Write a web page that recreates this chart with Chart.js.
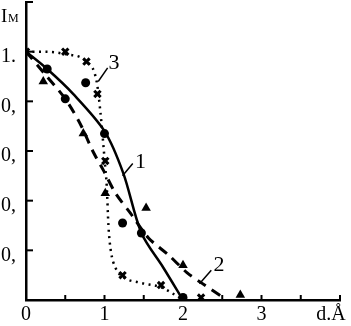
<!DOCTYPE html>
<html>
<head>
<meta charset="utf-8">
<script src="https://cdn.jsdelivr.net/npm/chart.js@4.4.1/dist/chart.umd.min.js"></script>
<style>
  html, body { margin: 0; padding: 0; background: #fff; }
</style>
</head>
<body>
<canvas id="chart" width="351" height="326"></canvas>
<script>
// curve 1 (solid)
const line1X = [0, 0.27, 0.6, 1.0, 1.24, 1.47, 1.75, 2.0];
const line1Y = [1.0, 0.93, 0.83, 0.68, 0.51, 0.27, 0.13, 0.0];
// curve 2 (dashed)
const line2X = [0, 0.24, 0.5, 0.69, 0.85, 0.99, 1.14, 1.33, 1.56, 1.82, 2.05, 2.23, 2.51];
const line2Y = [1.0, 0.91, 0.81, 0.71, 0.6, 0.52, 0.43, 0.35, 0.25, 0.18, 0.11, 0.07, 0.01];
// curve 3 (dotted)
const line3X = [0, 0.25, 0.5, 0.77, 0.9, 0.95, 1.0, 1.03, 1.05, 1.08, 1.14, 1.25, 1.45, 1.73, 1.9, 2.0];
const line3Y = [1.0, 1.0, 0.99, 0.96, 0.88, 0.75, 0.57, 0.45, 0.3, 0.2, 0.13, 0.09, 0.07, 0.05, 0.02, 0.0];

// measured points
const circleX = [0.27, 0.5, 0.76, 1.0, 1.23, 1.47, 2.0];
const circleY = [0.93, 0.81, 0.875, 0.67, 0.31, 0.27, 0.01];
const triangleX = [0.22, 0.73, 1.01, 1.53, 2.0, 2.73];
const triangleY = [0.88, 0.67, 0.43, 0.37, 0.14, 0.02];
const crossX = [0, 0.5, 0.77, 0.91, 1.01, 1.23, 1.72, 2.23];
const crossY = [1.0, 1.0, 0.96, 0.83, 0.56, 0.1, 0.06, 0.01];

// axis labels
const xTickValues = [0, 1, 2, 3];
const xTickLabels = ['0', '1', '2', '3'];
const yTickValues = [1.0, 0.8, 0.6, 0.4, 0.2];
const yTickLabels = ['1.', '0,', '0,', '0,', '0,'];

// curve numbers with their leader lines [labelX, labelY, fromX, fromY, toX, toY]
const curveNames = ['1', '2', '3'];
const curveNamePos = [
  [1.46, 0.555, 1.23, 0.5, 1.36, 0.55],
  [2.46, 0.14, 2.21, 0.065, 2.36, 0.12],
  [1.12, 0.955, 0.92, 0.88, 1.04, 0.935]
];

function pts(xs, ys) {
  return xs.map((x, i) => ({ x: x, y: ys[i] }));
}

const lineBase = { showLine: true, pointRadius: 0, fill: false, borderColor: '#000' };

const decor = {
  id: 'decor',
  afterDraw(chart) {
    const ctx = chart.ctx;
    const xs = chart.scales.x, ys = chart.scales.y;
    const y0 = ys.getPixelForValue(0);
    const x0 = xs.getPixelForValue(0);
    ctx.save();
    ctx.strokeStyle = '#000';
    ctx.fillStyle = '#000';
    ctx.lineWidth = 2;
    // inward ticks
    for (let v = 0.5; v <= 4; v += 0.5) {
      const px = xs.getPixelForValue(v);
      ctx.beginPath(); ctx.moveTo(px, y0); ctx.lineTo(px, y0 - 5); ctx.stroke();
    }
    for (let v = 0.2; v <= 1.21; v += 0.2) {
      const py = ys.getPixelForValue(v);
      ctx.beginPath(); ctx.moveTo(x0, py); ctx.lineTo(x0 + 7, py); ctx.stroke();
    }
    ctx.font = '20px "Liberation Serif", "DejaVu Serif", serif';
    ctx.textBaseline = 'middle';
    ctx.textAlign = 'center';
    xTickValues.forEach((v, i) => {
      ctx.fillText(xTickLabels[i], xs.getPixelForValue(v), 315);
    });
    ctx.fillText('d.Å', 331, 315);
    ctx.textAlign = 'left';
    yTickValues.forEach((v, i) => {
      ctx.fillText(yTickLabels[i], 1, ys.getPixelForValue(v) + 5);
    });
    // I_M
    ctx.font = '19px "Liberation Serif", serif';
    ctx.textBaseline = 'alphabetic';
    ctx.fillText('I', 1, 22);
    ctx.font = '12px "Liberation Serif", serif';
    ctx.fillText('M', 8, 22);
    // curve numbers
    ctx.font = '22px "Liberation Serif", serif';
    ctx.textAlign = 'center';
    ctx.textBaseline = 'middle';
    ctx.lineWidth = 1.5;
    curveNames.forEach((name, i) => {
      const p = curveNamePos[i];
      ctx.fillText(name, xs.getPixelForValue(p[0]), ys.getPixelForValue(p[1]));
      ctx.beginPath();
      ctx.moveTo(xs.getPixelForValue(p[2]), ys.getPixelForValue(p[3]));
      ctx.lineTo(xs.getPixelForValue(p[4]), ys.getPixelForValue(p[5]));
      ctx.stroke();
    });
    ctx.restore();
  }
};

new Chart(document.getElementById('chart').getContext('2d'), {
  type: 'scatter',
  data: {
    datasets: [
      Object.assign({ data: pts(line1X, line1Y), borderWidth: 2.5, tension: 0.3 }, lineBase),
      Object.assign({ data: pts(line2X, line2Y), borderWidth: 3, borderDash: [10, 7], tension: 0.3 }, lineBase),
      Object.assign({ data: pts(line3X, line3Y), borderWidth: 2.5, borderDash: [2, 4.5], cubicInterpolationMode: 'monotone' }, lineBase),
      { data: pts(circleX, circleY), pointStyle: 'circle', pointRadius: 4.5, backgroundColor: '#000', borderColor: '#000', borderWidth: 0 },
      { data: pts(triangleX, triangleY), pointStyle: 'triangle', pointRadius: 5.5, backgroundColor: '#000', borderColor: '#000', borderWidth: 0 },
      { data: pts(crossX, crossY), pointStyle: 'crossRot', pointRadius: 4.5, borderColor: '#000', borderWidth: 3 }
    ]
  },
  options: {
    responsive: false,
    animation: false,
    events: [],
    layout: { autoPadding: false, padding: { top: 2, right: 11, left: 0, bottom: 0 } },
    plugins: { legend: { display: false }, tooltip: { enabled: false } },
    scales: {
      x: {
        type: 'linear', min: 0, max: 4,
        afterFit: s => { s.height = 26; },
        ticks: { display: false },
        grid: { display: false },
        border: { display: true, color: '#000', width: 2.5 }
      },
      y: {
        type: 'linear', min: 0, max: 1.2,
        afterFit: s => { s.width = 26; },
        ticks: { display: false },
        grid: { display: false },
        border: { display: true, color: '#000', width: 2.5 }
      }
    }
  },
  plugins: [decor]
});
</script>
</body>
</html>
